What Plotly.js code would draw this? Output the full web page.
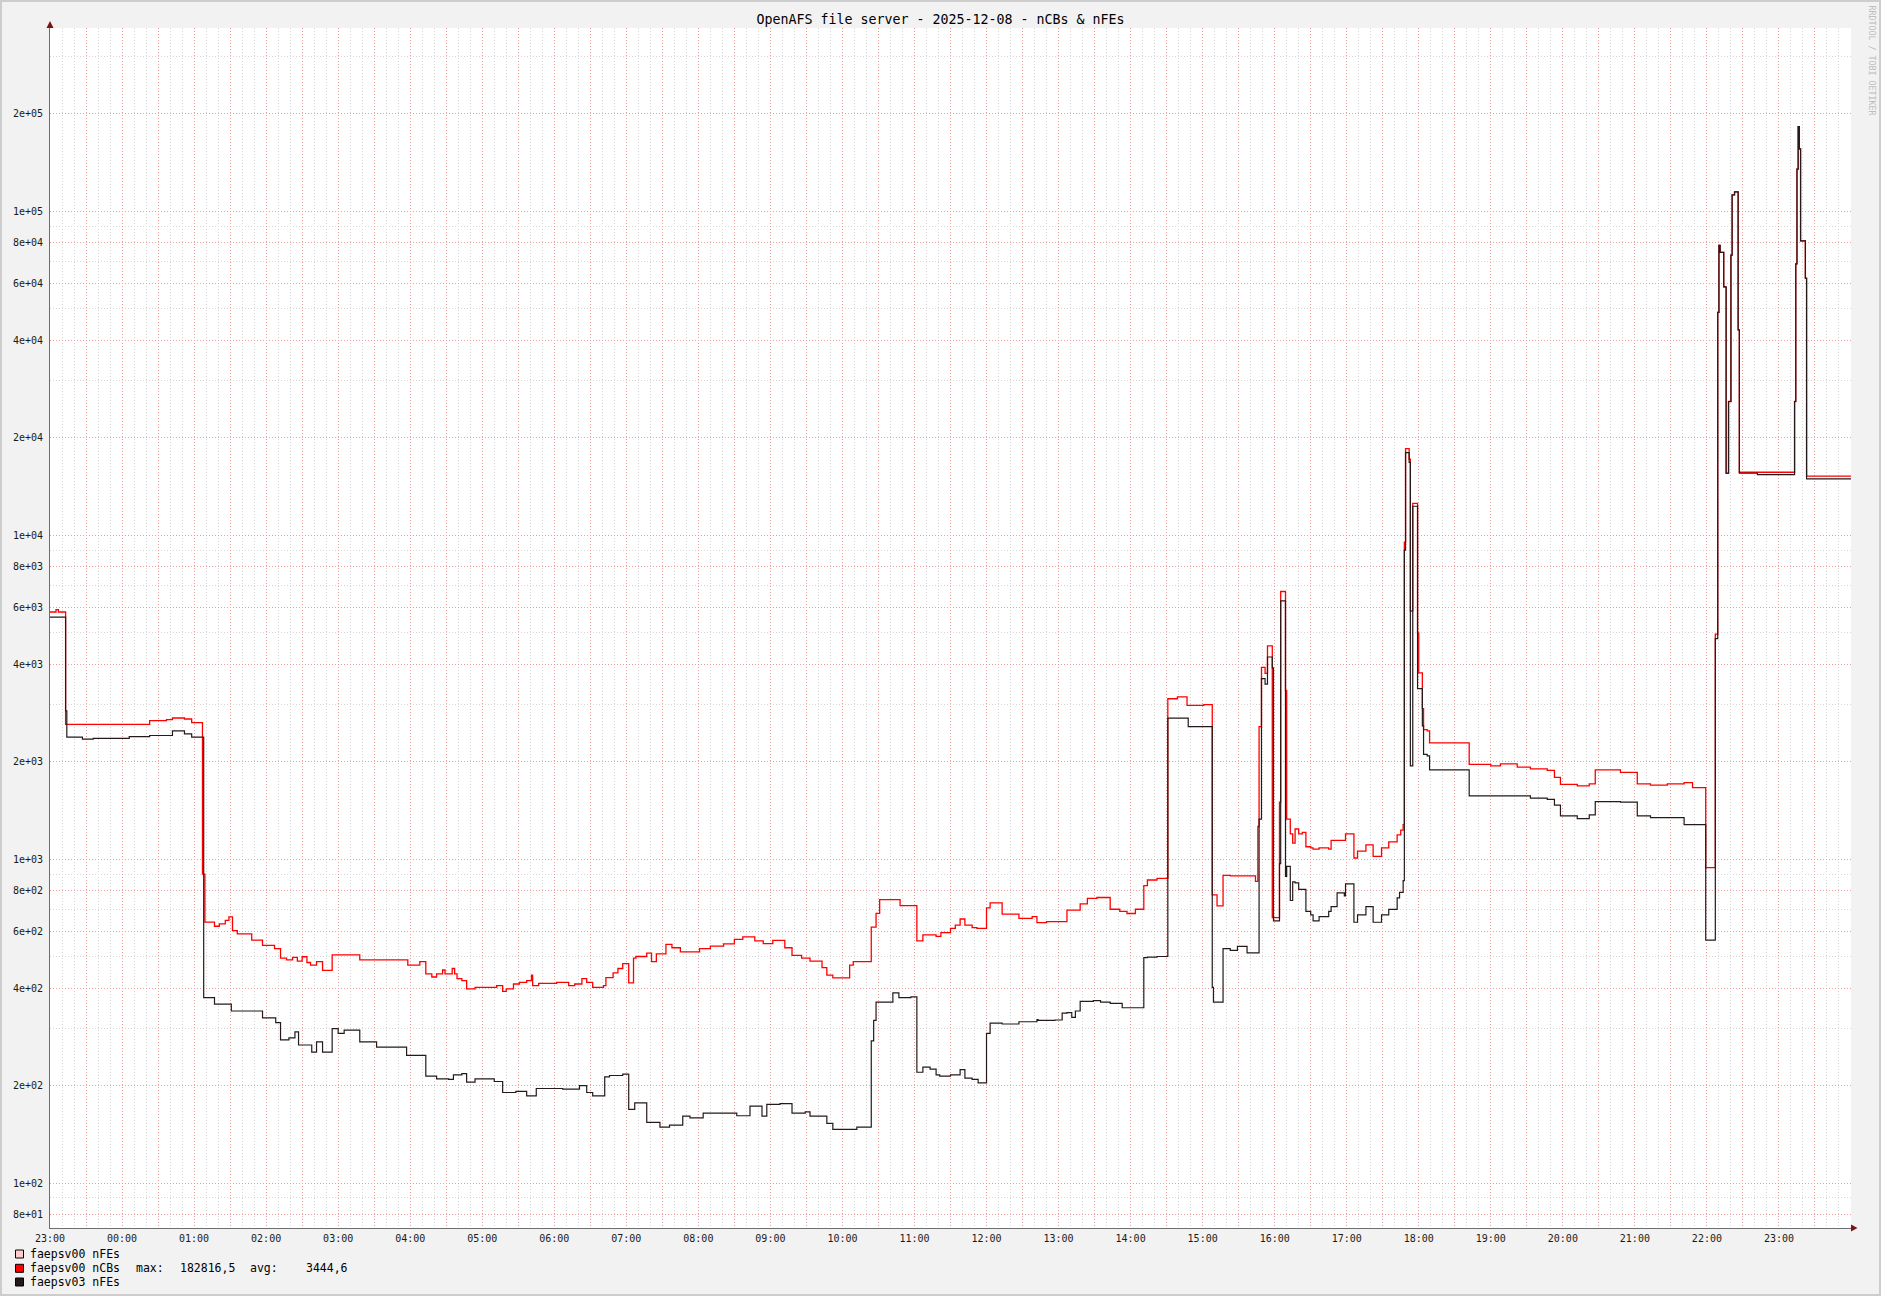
<!DOCTYPE html>
<html><head><meta charset="utf-8">
<script src="https://cdn.plot.ly/plotly-3.0.1.min.js"></script>
<style>
html,body{margin:0;padding:0;background:#f2f2f2;}
#wrap{position:relative;width:1881px;height:1296px;overflow:hidden;}
#chart{width:1881px;height:1296px;}
#frame{position:absolute;left:0;top:0;width:1881px;height:1296px;box-sizing:border-box;border:2px solid #cdcdcd;pointer-events:none;}
</style></head>
<body><div id="wrap"><div id="chart"></div><div id="frame"></div></div>
<script>
// ---- data (clock time HH:MM starting 2025-12-07 23:00, step-wise values) ----
const redTimes = ["23:00","23:05","23:07","23:13","00:23","00:37","00:42","00:52","00:58","01:07","01:09","01:17","01:21","01:26","01:29","01:32","01:36","01:48","01:57","02:07","02:12","02:17","02:22","02:26","02:30","02:34","02:37","02:42","02:47","02:55","03:18","03:58","04:08","04:13","04:18","04:22","04:27","04:29","04:35","04:37","04:39","04:43","04:47","04:54","05:12","05:17","05:20","05:26","05:31","05:37","05:41","05:42","05:47","06:02","06:12","06:17","06:23","06:27","06:32","06:41","06:43","06:49","06:53","06:57","07:02","07:06","07:08","07:17","07:21","07:25","07:33","07:38","07:45","08:01","08:10","08:21","08:30","08:37","08:47","08:54","09:02","09:12","09:18","09:26","09:33","09:43","09:47","09:52","10:06","10:09","10:24","10:28","10:31","10:48","11:02","11:07","11:18","11:22","11:30","11:34","11:38","11:42","11:48","11:52","12:00","12:03","12:13","12:27","12:38","12:42","12:50","13:07","13:18","13:24","13:32","13:43","13:51","13:57","14:04","14:11","14:14","14:22","14:31","14:39","14:47","15:01","15:08","15:12","15:17","15:23","15:44","15:46","15:47","15:49","15:52","15:54","15:58","16:04","16:05","16:09","16:10","16:13","16:15","16:17","16:20","16:23","16:26","16:30","16:32","16:37","16:45","16:47","16:59","17:06","17:09","17:16","17:22","17:29","17:35","17:42","17:45","17:47","17:48","17:49","17:52","17:53","17:55","17:59","18:00","18:03","18:04","18:07","18:09","18:42","19:00","19:08","19:22","19:33","19:47","19:53","19:58","20:12","20:22","20:27","20:48","21:02","21:13","21:27","21:41","21:48","21:59","22:07","22:09","22:10","22:11","22:14","22:16","22:18","22:20","22:21","22:23","22:26","22:27","23:13","23:14","23:15","23:16","23:17","23:18","23:22","23:23","00:00"];
const redValues = [5800,5900,5800,2610,2680,2700,2730,2710,2640,900,640,621,632,648,664,602,588,563,542,530,495,489,498,485,500,480,471,483,454,507,489,471,483,443,433,443,455,443,460,443,428,422,398,402,407,391,398,412,417,422,439,407,414,417,407,412,428,417,402,407,431,446,460,476,415,495,501,513,483,510,546,533,518,530,539,548,566,576,560,549,562,533,505,495,485,463,439,430,471,483,617,681,750,719,560,584,578,594,612,626,654,626,615,612,708,733,677,657,665,637,642,697,728,757,762,701,690,680,701,829,863,873,3130,3170,2985,3000,776,718,892,888,855,1262,2568,3910,3750,4557,660,1500,6710,3320,1330,1197,1121,1240,1197,1210,1093,1085,1075,1085,1075,1143,1197,1009,1060,1107,1020,1085,1132,1189,1230,1279,9530,18520,17200,5840,12560,5000,3760,2918,2512,2490,2286,1963,1941,1970,1925,1900,1880,1789,1702,1685,1710,1887,1855,1710,1695,1710,1725,1665,942,4955,48770,78550,74800,58500,15550,25900,73300,112500,114900,43100,15660,25900,68900,135200,182800,156000,81100,62200,15230,15230];

const blackTimes = ["23:00","23:13","23:14","23:27","23:36","23:50","00:06","00:23","00:42","00:52","00:58","01:08","01:17","01:31","01:57","02:08","02:12","02:19","02:24","02:27","02:38","02:42","02:47","02:55","03:00","03:05","03:18","03:32","03:57","04:13","04:22","04:32","04:36","04:43","04:47","04:54","05:10","05:17","05:28","05:37","05:45","06:07","06:21","06:27","06:32","06:42","06:46","06:57","07:02","07:07","07:17","07:28","07:36","07:47","07:53","08:04","08:32","08:43","08:53","08:57","09:08","09:18","09:29","09:33","09:47","09:52","10:12","10:24","10:26","10:28","10:42","10:47","10:57","11:02","11:07","11:13","11:18","11:21","11:30","11:38","11:42","11:48","11:53","12:00","12:03","12:13","12:27","12:42","12:43","12:57","13:03","13:07","13:11","13:14","13:18","13:29","13:35","13:43","13:53","14:11","14:14","14:22","14:31","14:48","15:08","15:09","15:17","15:23","15:29","15:37","15:47","15:49","15:52","15:54","15:58","15:59","16:04","16:05","16:09","16:10","16:13","16:15","16:17","16:20","16:26","16:30","16:32","16:37","16:45","16:47","16:52","16:58","16:59","17:06","17:09","17:16","17:22","17:29","17:35","17:42","17:44","17:47","17:48","17:49","17:52","17:53","17:55","17:59","18:03","18:04","18:07","18:09","18:42","19:33","19:47","19:53","19:58","20:12","20:22","20:27","20:48","21:02","21:13","21:41","21:59","22:07","22:09","22:10","22:11","22:14","22:16","22:18","22:20","22:21","22:23","22:26","22:27","22:42","23:13","23:14","23:15","23:16","23:17","23:18","23:22","23:23","00:00"];
const blackValues = [5590,2870,2383,2350,2360,2360,2390,2410,2490,2440,2383,374,357,340,324,313,277,281,293,267,254,273,254,300,290,297,273,263,248,214,210,209,216,218,205,210,206,190.5,192,186,196,195,200,190.5,186,213,215,217,169,177,154,149,151,161,159,164.5,161.5,173,161,175,176,164.5,166,161,153,146.5,149,275,318,362,387,374,376,220,228,225,216,214,216,224,211,209,204,290,312,310,315,320,318,319,335,336,325,340,364,366,362,359,348,497,499,501,2727,2568,402,362,530,523,538,514,1330,3613,3474,4211,3900,645,970,6280,885,951,746,851,845,807,690,673,645,665,690,714,787,770,840,639,673,714,639,673,700,760,790,859,9000,18000,16800,1941,12300,3366,2582,2107,2085,1887,1570,1545,1530,1470,1362,1335,1370,1507,1500,1362,1345,1279,563,4800,48770,78550,74800,58500,15550,25900,73300,112500,114900,43100,15550,15400,25900,68900,135200,182800,156000,81100,62200,14940,14940];

const xTickLabels = ["23:00","00:00","01:00","02:00","03:00","04:00","05:00","06:00","07:00","08:00","09:00","10:00","11:00","12:00","13:00","14:00","15:00","16:00","17:00","18:00","19:00","20:00","21:00","22:00","23:00"];
const yTickVals = [80,100,200,400,600,800,1000,2000,4000,6000,8000,10000,20000,40000,60000,80000,100000,200000];
const yTickText = ["8e+01","1e+02","2e+02","4e+02","6e+02","8e+02","1e+03","2e+03","4e+03","6e+03","8e+03","1e+04","2e+04","4e+04","6e+04","8e+04","1e+05","2e+05"];
const yMinorVals = [90,300,500,700,900,3000,5000,7000,9000,30000,50000,70000,90000,300000];

const seriesNames = ["faepsv00 nFEs","faepsv00 nCBs","faepsv03 nFEs"];
const seriesColors = ["#ffcccc","#ff0000","#241a1a"];

// ---- helpers ----
function toDates(times){
  let day = 7, prev = 23;
  return times.map(t => {
    const h = parseInt(t.slice(0,2),10);
    if (h < prev) day++;
    prev = h;
    const d = String(day).padStart(2,'0');
    return `2025-12-${d} ${t}:00`;
  });
}
const xStart = '2025-12-07 23:00:00', xEnd = '2025-12-09 00:00:00';
const t0 = Date.parse('2025-12-07T23:00:00Z');
function fmt(ms){
  const d = new Date(ms);
  const p = n => String(n).padStart(2,'0');
  return `${d.getUTCFullYear()}-${p(d.getUTCMonth()+1)}-${p(d.getUTCDate())} ${p(d.getUTCHours())}:${p(d.getUTCMinutes())}:00`;
}
const xTickVals = [], xTickText = [];
xTickLabels.forEach((lab,i) => {
  xTickVals.push(fmt(t0 + i*3600000)); xTickText.push(lab);
  xTickVals.push(fmt(t0 + i*3600000 + 1800000)); xTickText.push('');
});

// pixel -> paper helpers (layout positioning only)
const L = 50, R = 30, T = 28, B = 68, W = 1881, H = 1296;
const PW = W - L - R, PH = H - T - B;
const px = v => (v - L) / PW;
const py = v => (H - B - v) / PH;

const mono = 'DejaVu Sans Mono, monospace';

const traces = [
  {x: toDates(redTimes), y: redValues, type:'scatter', mode:'lines', line:{shape:'hv', color:seriesColors[1], width:1.3}, name:seriesNames[1], hoverinfo:'skip'},
  {x: toDates(blackTimes), y: blackValues, type:'scatter', mode:'lines', line:{shape:'hv', color:seriesColors[2], width:1.2}, name:seriesNames[2], hoverinfo:'skip'}
];

const shapes = [
  // axis arrow heads
  {type:'path', xref:'paper', yref:'paper', xsizemode:'pixel', ysizemode:'pixel', xanchor:0, yanchor:1,
   path:'M-3.5,0 L3.5,0 L0,7 Z', fillcolor:'#7a1414', line:{width:0}},
  {type:'path', xref:'paper', yref:'paper', xsizemode:'pixel', ysizemode:'pixel', xanchor:1, yanchor:0,
   path:'M0,-3.5 L0,3.5 L6.5,0 Z', fillcolor:'#7a1414', line:{width:0}}
];
const legendRows = [1254, 1268.3, 1282];
legendRows.forEach((cy,i) => {
  shapes.push({type:'rect', xref:'paper', yref:'paper', x0:px(15.5), x1:px(23.5), y0:py(cy+4), y1:py(cy-4),
    fillcolor:seriesColors[i], line:{color:'#000', width:1}});
});

const annotations = [];
legendRows.forEach((cy,i) => {
  annotations.push({xref:'paper', yref:'paper', x:px(27.8), y:py(cy), xanchor:'left', yanchor:'middle', showarrow:false,
    text:seriesNames[i], font:{family:mono, size:11.5, color:'#000'}});
});
const extra = [["max:",134],["182816,5",177.5],["avg:",248],["3444,6",304]];
extra.forEach(([t,x]) => annotations.push({xref:'paper', yref:'paper', x:px(x), y:py(legendRows[1]), xanchor:'left', yanchor:'middle',
  showarrow:false, text:t, font:{family:mono, size:11.5, color:'#000'}}));
annotations.push({xref:'paper', yref:'paper', x:px(1871.5), y:py(60), xanchor:'center', yanchor:'middle', showarrow:false,
  textangle:90, text:'RRDTOOL / TOBI OETIKER', font:{family:mono, size:8.3, color:'#bdbdbd'}});

const layout = {
  width: W, height: H,
  margin:{l:L, r:R, t:T, b:B, pad:0},
  paper_bgcolor:'#f2f2f2', plot_bgcolor:'#ffffff',
  showlegend:false,
  title:{text:'OpenAFS file server - 2025-12-08 - nCBs &amp; nFEs', font:{family:mono, size:13.3, color:'#000'},
    x:0.5, xref:'container', xanchor:'center', y:1-19/H, yref:'container', yanchor:'middle'},
  xaxis:{type:'date', range:[xStart, xEnd], tickmode:'array', tickvals:xTickVals, ticktext:xTickText,
    showgrid:true, gridcolor:'#eba0a0', griddash:'1px,2px', gridwidth:1, zeroline:false,
    showline:true, linecolor:'#6e6e6e', linewidth:1, ticks:'', ticklabelstandoff:1,
    tickfont:{family:mono, size:10, color:'#1a1a1a'},
    minor:{tickmode:'linear', tick0:xStart, dtick:600000, showgrid:true, gridcolor:'#d6d6d6', griddash:'1px,2px', gridwidth:1, ticks:''}},
  yaxis:{type:'log', range:[Math.log10(72.7), Math.log10(368500)], tickmode:'array', tickvals:yTickVals, ticktext:yTickText,
    showgrid:true, gridcolor:'#eba0a0', griddash:'1px,2px', gridwidth:1, zeroline:false,
    showline:true, linecolor:'#6e6e6e', linewidth:1, ticks:'', ticklabelstandoff:4,
    tickfont:{family:mono, size:10, color:'#1a1a1a'},
    minor:{tickmode:'array', tickvals:yMinorVals, showgrid:true, gridcolor:'#d6d6d6', griddash:'1px,2px', gridwidth:1, ticks:''}},
  shapes: shapes,
  annotations: annotations
};

Plotly.newPlot('chart', traces, layout, {displayModeBar:false, staticPlot:true});
</script></body></html>
